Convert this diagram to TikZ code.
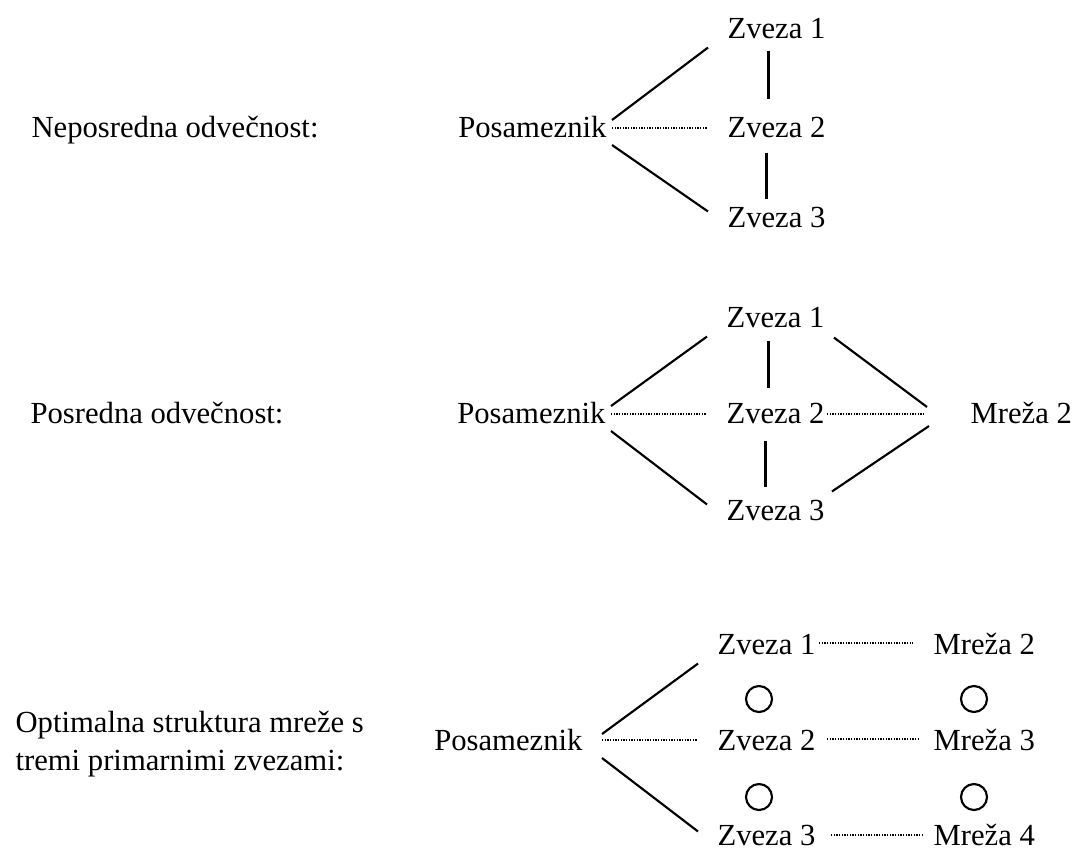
\documentclass[tikz,border=0pt,12pt]{standalone}
\usepackage{fontspec}
\setmainfont{Liberation Serif}

\begin{document}
\begin{tikzpicture}[x=0.375pt, y=-0.375pt,
                   every node/.style={font=\fontsize{11.5}{14}\selectfont},
                   word/.style={inner sep=0pt, anchor=base west,
                   text height=8.25pt, text depth=0pt},
                   root/.style={word, anchor=base east},
                   link/.style={draw, line width=0.8pt},
                   weak/.style={draw, line width=0.5pt,
                   dash pattern=on 0.45pt off 0.55pt},
                   ring/.style={draw, circle, line width=0.8pt,
                   inner sep=0pt, minimum size=9.75pt}]
  \useasboundingbox (0,0) rectangle (1073,849);
  % neposredna odvecnost
  \node[word] (lab1) at (31,137) {Neposredna odvečnost:};
  \node[root] (p1) at (607,137) {Posameznik};
  \node[word] (z11) at (727,38) {Zveza 1};
  \node[word] (z12) at (727,137) {Zveza 2};
  \node[word] (z13) at (727,227) {Zveza 3};
  \draw[link] ([shift={(5,-6)}]p1.east) -- ([shift={(-19,9)}]z11.south west);
  \draw[weak] ([shift={(5,2)}]p1.east) -- ([shift={(-20,2)}]z12.west);
  \draw[link] ([shift={(5,19)}]p1.east) -- ([shift={(-19,7)}]z13.north west);
  \draw[link] ([shift={(-8,12)}]z11.south) -- ([shift={(-8,-15)}]z12.north);
  \draw[link] ([shift={(-10,15)}]z12.south) -- ([shift={(-10,-5)}]z13.north);
  % posredna odvecnost
  \node[word] (lab2) at (30,423) {Posredna odvečnost:};
  \node[root] (p2) at (606,423) {Posameznik};
  \node[word] (z21) at (726,327) {Zveza 1};
  \node[word] (z22) at (726,423) {Zveza 2};
  \node[word] (z23) at (726,520) {Zveza 3};
  \node[word] (m2) at (970,423) {Mreža 2};
  \draw[link] ([shift={(5,-6)}]p2.east) -- ([shift={(-19,9)}]z21.south west);
  \draw[weak] ([shift={(5,2)}]p2.east) -- ([shift={(-20,2)}]z22.west);
  \draw[link] ([shift={(5,19)}]p2.east) -- ([shift={(-19,7)}]z23.north west);
  \draw[link] ([shift={(-7,13)}]z21.south) -- ([shift={(-7,-12)}]z22.north);
  \draw[link] ([shift={(-10,17)}]z22.south) -- ([shift={(-10,-10)}]z23.north);
  \draw[link] ([shift={(9,10)}]z21.south east) -- ([shift={(-43,-5)}]m2.west);
  \draw[weak] ([shift={(2,2)}]z22.east) -- ([shift={(-45,2)}]m2.west);
  \draw[link] ([shift={(7,-6)}]z23.north east) -- ([shift={(-41,14)}]m2.west);
  % optimalna struktura
  \node[inner sep=0pt, anchor=west, align=left] (lab3) at (15,744)
        {Optimalna struktura mreže s\\tremi primarnimi zvezami:};
  \node[root] (p3) at (583,750) {Posameznik};
  \node[word] (z31) at (717,654) {Zveza 1};
  \node[word] (z32) at (717,750) {Zveza 2};
  \node[word] (z33) at (717,845) {Zveza 3};
  \node[word] (m32) at (933,654) {Mreža 2};
  \node[word] (m33) at (933,750) {Mreža 3};
  \node[word] (m34) at (933,845) {Mreža 4};
  \draw[link] ([shift={(19,-5)}]p3.east) -- ([shift={(-19,9)}]z31.south west);
  \draw[weak] ([shift={(19,1)}]p3.east) -- ([shift={(-20,1)}]z32.west);
  \draw[link] ([shift={(19,19)}]p3.east) -- ([shift={(-19,9)}]z33.north west);
  \draw[weak] ([shift={(3,0)}]z31.east) -- ([shift={(-20,0)}]m32.west);
  \draw[weak] ([shift={(11,0)}]z32.east) -- ([shift={(-14,0)}]m33.west);
  \draw[weak] ([shift={(15,1)}]z33.east) -- ([shift={(-11,1)}]m34.west);
  \node[ring] (c1) at (759,699) {};
  \node[ring] (c2) at (974,699) {};
  \node[ring] (c3) at (759,797) {};
  \node[ring] (c4) at (974,797) {};
\end{tikzpicture}
\end{document}
